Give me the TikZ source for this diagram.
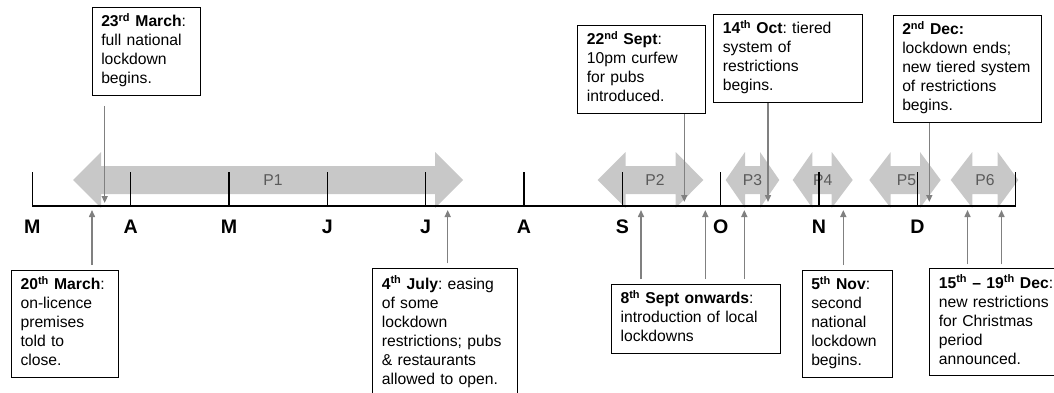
\documentclass[tikz,border=0pt]{standalone}
\usepackage{fontspec}
\setmainfont{Liberation Sans}
\usetikzlibrary{arrows.meta}
\definecolor{pgrey}{RGB}{200,200,200}
\definecolor{lgrey}{RGB}{128,128,128}
\definecolor{tgrey}{RGB}{90,90,90}
\tikzset{
  evbox/.style={draw=black, line width=1.1pt, inner xsep=9pt, inner ysep=6pt,
    align=left, anchor=north west, font=\fontsize{15.7}{19}\selectfont\frenchspacing,
    execute at begin node=\strut, execute at end node=\strut},
  pin/.style={draw=lgrey, line width=1.5pt, -{Triangle[length=7pt,width=6pt]}},
  month/.style={font=\fontsize{19.6}{20}\selectfont\bfseries, anchor=base},
  plabel/.style={font=\fontsize{15.7}{19}\selectfont, text=tgrey},
}
% period arrow: left tip, left back, right back, right tip, label x, name
\newcommand{\perarrow}[6]{%
  \fill[pgrey] (#1,180) -- (#2,152) -- (#2,166) -- (#3,166) -- (#3,152) -- (#4,180)
    -- (#3,208) -- (#3,194) -- (#2,194) -- (#2,208) -- cycle;
  \node[plabel] (#6) at (#5,180) {#6};}
\begin{document}
\begin{tikzpicture}[x=1pt, y=-1pt]
        \useasboundingbox (0,0) rectangle (1054,393);
        \clip (0,0) rectangle (1054,393);
        % periods
        \perarrow{73}{101}{435}{463}{273}{P1}
        \perarrow{597.7}{625.7}{675.7}{703.3}{655}{P2}
        \perarrow{725.7}{745}{760}{779.3}{752.5}{P3}
        \perarrow{792.7}{812.3}{831.7}{852.7}{822.7}{P4}
        \perarrow{869.3}{890.7}{920}{940.7}{906.5}{P5}
        \perarrow{950.7}{972.3}{997.7}{1018.3}{985}{P6}
        % time line
        \coordinate (t0) at (32.3,206);
        \coordinate (t10) at (1015.7,206);
        \draw [line width=1.3pt] (t0) -- (t10);
        \draw [line width=1.1pt] (t0) -- ++(0,-34);
        \draw [line width=1.1pt] (t10) -- ++(0,-34);
        \foreach \i in {1,...,9}
          \draw [line width=1.1pt] ({32.3+98.34*\i},206) -- ++(0,-34);
        \foreach \m [count=\i from 0] in {M,A,M,J,J,A,S,O,N,D}
          \node [month] (m\i) at ({32.3+98.34*\i},233) {\m};
        % events above
        \node [evbox, text width=90.3pt, minimum height=88pt] (mar23) at (91.7,6.7)
          {\textbf{23\textsuperscript{rd} March}:\\full national\\lockdown\\begins.};
        \node [evbox, text width=109.7pt, minimum height=87pt] (sep22) at (577.3,25)
          {\textbf{22\textsuperscript{nd} Sept}:\\10pm curfew\\for pubs\\introduced.};
        \node [evbox, text width=130.4pt, minimum height=87pt] (oct14) at (713.3,14)
          {\textbf{14\textsuperscript{th} Oct}: tiered\\system of\\restrictions\\begins.};
        \node [evbox, text width=130.6pt, minimum height=107pt] (dec2) at (892.7,15)
          {\textbf{2\textsuperscript{nd} Dec:}\\lockdown ends;\\new tiered system\\of restrictions\\begins.};
        % events below
        \node [evbox, text width=89pt, minimum height=107pt] (mar20) at (11,270)
          {\textbf{20\textsuperscript{th} March}:\\on-licence\\premises\\told to\\close.};
        \node [evbox, text width=126.4pt, minimum height=128pt] (jul4) at (372.3,268.3)
          {\textbf{4\textsuperscript{th} July}: easing\\of some\\lockdown\\restrictions; pubs\\\& restaurants\\allowed to open.};
        \node [evbox, text width=151pt, minimum height=68pt] (sep8) at (611,284)
          {\textbf{8\textsuperscript{th} Sept onwards}:\\introduction of local\\lockdowns};
        \node [evbox, text width=72.6pt, minimum height=107pt] (nov5) at (801.7,270)
          {\textbf{5\textsuperscript{th} Nov}:\\second\\national\\lockdown\\begins.};
        \node [evbox, text width=121pt, minimum height=107pt] (dec15) at (929.3,268.3)
          {\textbf{15\textsuperscript{th} -- 19\textsuperscript{th} Dec}:\\new restrictions\\for Christmas\\period\\announced.};
        % pointers down to the line
        \coordinate (d1) at (104.7,203);
        \coordinate (d2) at (684.3,202);
        \coordinate (d3) at (768,202);
        \coordinate (d4) at (929.3,202);
        \draw [pin, shorten <=10pt] (mar23.south -| d1) -- (d1);
        \draw [pin] (sep22.south -| d2) -- (d2);
        \draw [pin] (oct14.south -| d3) -- (d3);
        \draw [pin] (dec2.south -| d4) -- (d4);
        % pointers up to the line
        \coordinate (u1) at (92,210);
        \coordinate (u2) at (447.7,210);
        \coordinate (u3) at (641,210);
        \coordinate (u4) at (705.3,210);
        \coordinate (u5) at (744.3,210);
        \coordinate (u6) at (843.3,210);
        \coordinate (u7) at (967.5,210);
        \coordinate (u8) at (1001.5,210);
        \draw [pin, shorten <=5pt] (mar20.north -| u1) -- (u1);
        \draw [pin, shorten <=5pt] (jul4.north -| u2) -- (u2);
        \draw [pin, shorten <=5pt] (sep8.north -| u3) -- (u3);
        \draw [pin, shorten <=5pt] (sep8.north -| u4) -- (u4);
        \draw [pin, shorten <=5pt] (sep8.north -| u5) -- (u5);
        \draw [pin, shorten <=5pt] (nov5.north -| u6) -- (u6);
        \draw [pin, shorten <=4pt] (dec15.north -| u7) -- (u7);
        \draw [pin, shorten <=4pt] (dec15.north -| u8) -- (u8);
\end{tikzpicture}
\end{document}
